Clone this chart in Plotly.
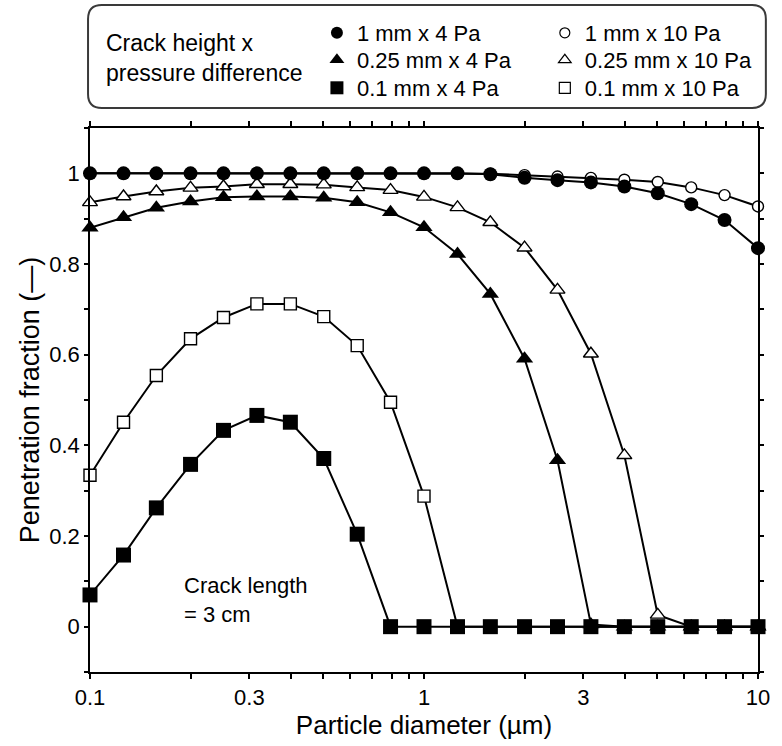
import plotly.graph_objects as go

# particle diameters (µm), 10 points per decade
diam = [0.1, 0.126, 0.158, 0.2, 0.251, 0.316, 0.398, 0.501, 0.631, 0.794,
        1.0, 1.26, 1.58, 2.0, 2.51, 3.16, 3.98, 5.01, 6.31, 7.94, 10.0]

p_1mm_4 = [1, 1, 1, 1, 1, 1, 1, 1, 1, 1, 1, 1, 0.998, 0.99, 0.985, 0.98, 0.971,
           0.956, 0.932, 0.897, 0.835]
p_1mm_10 = [1, 1, 1, 1, 1, 1, 1, 1, 1, 1, 1, 1, 0.999, 0.996, 0.993, 0.99, 0.986,
            0.981, 0.969, 0.952, 0.927]
p_025_4 = [0.880, 0.903, 0.924, 0.938, 0.947, 0.949, 0.949, 0.946, 0.936, 0.914,
           0.881, 0.822, 0.734, 0.591, 0.367, 0.005, 0, 0, 0, 0, 0]
p_025_10 = [0.936, 0.949, 0.960, 0.968, 0.971, 0.976, 0.976, 0.975, 0.969, 0.963,
            0.948, 0.925, 0.892, 0.836, 0.743, 0.602, 0.378, 0.026, 0, 0, 0]
p_01_4 = [0.070, 0.158, 0.262, 0.358, 0.433, 0.466, 0.451, 0.371, 0.204, 0,
          0, 0, 0, 0, 0, 0, 0, 0, 0, 0, 0]
p_01_10 = [0.334, 0.451, 0.554, 0.635, 0.682, 0.712, 0.712, 0.684, 0.620, 0.495,
           0.288, 0, 0, 0, 0, 0, 0, 0, 0, 0, 0]

series_names = ["1 mm x 4 Pa", "0.25 mm x 4 Pa", "0.1 mm x 4 Pa",
                "1 mm x 10 Pa", "0.25 mm x 10 Pa", "0.1 mm x 10 Pa"]
x_tickvals = [0.1, 0.3, 1, 3, 10]
x_ticktext = ["0.1", "0.3", "1", "3", "10"]
y_tickvals = [0, 0.2, 0.4, 0.6, 0.8, 1]
y_ticktext = ["0", "0.2", "0.4", "0.6", "0.8", "1"]

FONT = "Liberation Sans, Arial, sans-serif"

# name: (values, symbol, filled, plot marker size, legend marker size)
series = {
    "1 mm x 4 Pa": (p_1mm_4, "circle", True, 14, 12),
    "1 mm x 10 Pa": (p_1mm_10, "circle", False, 11, 10),
    "0.25 mm x 4 Pa": (p_025_4, "triangle-up", True, 15, 13),
    "0.25 mm x 10 Pa": (p_025_10, "triangle-up", False, 13, 11),
    "0.1 mm x 4 Pa": (p_01_4, "square", True, 15, 13),
    "0.1 mm x 10 Pa": (p_01_10, "square", False, 12, 11),
}

fig = go.Figure()
# draw open series first, filled on top
draw_order = ["1 mm x 10 Pa", "0.25 mm x 10 Pa", "0.1 mm x 10 Pa",
              "0.25 mm x 4 Pa", "0.1 mm x 4 Pa", "1 mm x 4 Pa"]
for name in draw_order:
    vals, sym, filled, size, _ = series[name]
    fig.add_trace(go.Scatter(
        x=diam, y=vals, mode="lines+markers", showlegend=False, name=name,
        line=dict(color="black", width=2),
        marker=dict(symbol=sym, size=size,
                    color="black" if filled else "white",
                    line=dict(color="black", width=0 if filled else 1.4)),
        cliponaxis=False,
    ))

L, R, T, B = 90, 12, 128, 74
W, H = 782, 746
pw, ph = W - L - R, H - T - B


def px(x):
    return (x - L) / pw


def py(y):
    return (H - B - y) / ph


# one single-entry legend per legend slot (2 columns x 3 rows)
col_left = [321, 553]
row_mid = [33, 60, 88]
legend_layouts = {}
for i, name in enumerate(series_names):
    vals, sym, filled, size, lsize = series[name]
    key = "legend" if i == 0 else f"legend{i+1}"
    fig.add_trace(go.Scatter(
        x=[None], y=[None], mode="markers", name=name, showlegend=True,
        legend=key,
        marker=dict(symbol=sym, size=lsize,
                    color="black" if filled else "white",
                    line=dict(color="black", width=0 if filled else 1.2)),
    ))
    legend_layouts[key] = dict(
        x=px(col_left[i // 3]), y=py(row_mid[i % 3]),
        xanchor="left", yanchor="middle", orientation="v", itemwidth=30,
        bgcolor="rgba(0,0,0,0)", borderwidth=0,
        font=dict(family=FONT, size=22, color="black"))

# rounded legend box
x0, x1, y0, y1 = px(88), px(778), py(108), py(5)
rx, ry = 14 / pw, 14 / ph
path = (f"M {x0+rx},{y1} L {x1-rx},{y1} Q {x1},{y1} {x1},{y1-ry} "
        f"L {x1},{y0+ry} Q {x1},{y0} {x1-rx},{y0} L {x0+rx},{y0} "
        f"Q {x0},{y0} {x0},{y0+ry} L {x0},{y1-ry} Q {x0},{y1} {x0+rx},{y1} Z")

fig.update_layout(
    width=W, height=H,
    margin=dict(l=L, r=R, t=T, b=B),
    paper_bgcolor="white", plot_bgcolor="white",
    font=dict(family=FONT, size=18, color="black"),
    shapes=[dict(type="path", xref="paper", yref="paper", path=path,
                 line=dict(color="#3a3a3a", width=2))],
    annotations=[
        dict(text="Crack height x<br>pressure difference", xref="paper",
             yref="paper", x=px(104), y=py(58), xanchor="left",
             yanchor="middle", align="left", showarrow=False,
             font=dict(family=FONT, size=23)),
        dict(text="Crack length<br>= 3 cm", xref="paper", yref="paper",
             x=px(184), y=py(600), xanchor="left", yanchor="middle",
             align="left", showarrow=False,
             font=dict(family=FONT, size=22)),
    ],
    **legend_layouts,
)

fig.update_xaxes(
    type="log", range=[-1, 1],
    tickvals=x_tickvals, ticktext=x_ticktext,
    ticks="outside", ticklen=5, tickwidth=1.5, tickcolor="black",
    minor=dict(ticks="outside", ticklen=5, tickwidth=1.5, tickcolor="black",
               dtick="D1", showgrid=False),
    showline=True, linecolor="black", linewidth=1.5, mirror="ticks",
    showgrid=False, zeroline=False,
    title=dict(text="Particle diameter (µm)", font=dict(family=FONT, size=26),
               standoff=2),
    tickfont=dict(family=FONT, size=22),
)
fig.update_yaxes(
    range=[-0.1, 1.1],
    tickvals=y_tickvals, ticktext=y_ticktext,
    ticks="outside", ticklen=4, tickwidth=1.5, tickcolor="black",
    minor=dict(ticks="outside", ticklen=4, tickwidth=1.5, tickcolor="black",
               dtick=0.1, showgrid=False),
    showline=True, linecolor="black", linewidth=1.5, mirror="ticks",
    showgrid=False, zeroline=False,
    title=dict(text="Penetration fraction (—)", font=dict(family=FONT, size=27),
               standoff=2),
    tickfont=dict(family=FONT, size=22),
)

fig.write_html("out.html")
